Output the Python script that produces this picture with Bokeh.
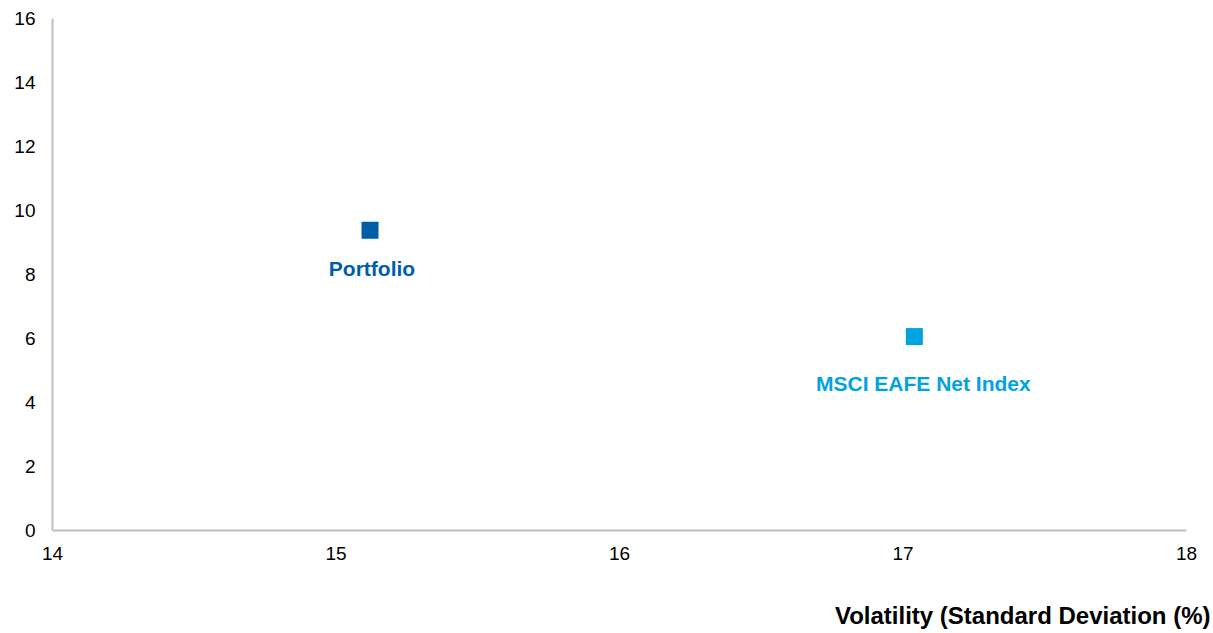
from bokeh.plotting import figure
from bokeh.models import Range1d, Label, FixedTicker, Title
from bokeh.embed import file_html
from bokeh.resources import INLINE

names = ["Portfolio", "MSCI EAFE Net Index"]
volatility = [15.12, 17.04]
returns = [9.38, 6.06]
colors = ["#005EA8", "#00A3E0"]
x_ticks = [14, 15, 16, 17, 18]
y_ticks = [0, 2, 4, 6, 8, 10, 12, 14, 16]
x_title = "Volatility (Standard Deviation (%)"

p = figure(width=1213, height=633, output_backend="svg", toolbar_location=None,
           x_range=Range1d(14, 18), y_range=Range1d(0, 16),
           min_border_left=52, min_border_right=27, min_border_top=18, min_border_bottom=103)
p.outline_line_color = None
p.xgrid.grid_line_color = None
p.ygrid.grid_line_color = None

for ax, ticks in ((p.xaxis[0], x_ticks), (p.yaxis[0], y_ticks)):
    ax.ticker = FixedTicker(ticks=ticks)
    ax.axis_line_color = "#BFBFBF"
    ax.axis_line_width = 2
    ax.major_tick_line_color = None
    ax.minor_tick_line_color = None
    ax.major_label_text_font = "Liberation Sans"
    ax.major_label_text_font_size = "19px"
    ax.major_label_text_color = "#000000"
p.xaxis.major_label_standoff = 10
p.yaxis.major_label_standoff = 11
# blank spacer label to push the right-aligned title further down
p.xaxis.axis_label = " "
p.xaxis.axis_label_text_font_size = "1px"
p.xaxis.axis_label_standoff = 30

p.scatter(volatility, returns, marker="square", size=17, color=colors, line_color=None)

offsets = [(2, -38), (9, -47)]
for n, xv, yv, c, (dx, dy) in zip(names, volatility, returns, colors, offsets):
    p.add_layout(Label(x=xv, y=yv, x_offset=dx, y_offset=dy, text=n,
                       text_align="center", text_baseline="middle",
                       text_font="Liberation Sans", text_font_style="bold",
                       text_font_size="21px", text_color=c))

p.add_layout(Title(text=x_title, align="right", offset=-24, standoff=7,
                   vertical_align="bottom",
                   text_font="Liberation Sans", text_font_style="bold",
                   text_font_size="24px", text_color="#000000"), "below")

open("out.html", "w").write(file_html(p, INLINE))
